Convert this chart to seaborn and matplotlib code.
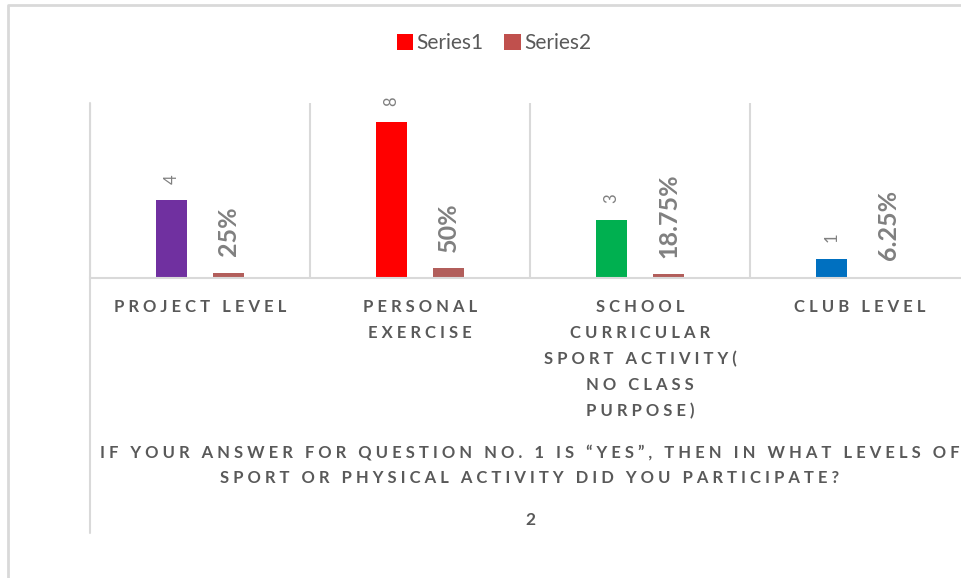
import numpy as np
import pandas as pd
import matplotlib
matplotlib.use("Agg")
import matplotlib.pyplot as plt
import seaborn as sns
from matplotlib.lines import Line2D
from matplotlib.patches import Patch

# data
categories = ["PROJECT LEVEL", "PERSONAL\nEXERCISE",
              "SCHOOL\nCURRICULAR\nSPORT ACTIVITY(\nNO CLASS\nPURPOSE)",
              "CLUB LEVEL"]
series_names = ["Series1", "Series2"]
series1 = [4, 8, 3, 1]
series2 = [0.25, 0.50, 0.1875, 0.0625]
series1_labels = ["4", "8", "3", "1"]
series2_labels = ["25%", "50%", "18.75%", "6.25%"]
point_colors = ["#7030A0", "#FF0000", "#00B050", "#0070C0"]
series_colors = ["#FF0000", "#C0504D"]
axis_title = "IF YOUR ANSWER FOR QUESTION NO. 1 IS \u201cYES\u201d, THEN IN WHAT LEVELS OF\nSPORT OR PHYSICAL ACTIVITY DID YOU PARTICIPATE?"
sub_title = "2"

GRID = "#D9D9D9"
TXT = "#595959"
LBL = "#808080"


def spaced(s):
    """Fake letter spacing: put a space between every character."""
    return "\n".join(" ".join(line) for line in s.split("\n"))


df = pd.DataFrame({
    "category": categories * 2,
    "series": [series_names[0]] * 4 + [series_names[1]] * 4,
    "value": series1 + series2,
})

sns.set_theme(style="white")
plt.rcParams["font.family"] = ["Lato", "DejaVu Sans"]

fig = plt.figure(figsize=(9.62, 5.78), dpi=100)
ax = fig.add_axes([90 / 962, 300 / 578, 880 / 962, 175 / 578])

sns.barplot(data=df, x="category", y="value", hue="series",
            palette=series_colors, width=0.52, gap=0.46,
            errorbar=None, legend=False, ax=ax)

for patch, c in zip(ax.containers[0].patches, point_colors):
    patch.set_facecolor(c)
    patch.set_edgecolor("none")
for patch in ax.containers[1].patches:
    patch.set_edgecolor("none")

ax.bar_label(ax.containers[0], labels=series1_labels, rotation=90,
             padding=12, fontsize=12, color=LBL)
ax.bar_label(ax.containers[1], labels=series2_labels, rotation=90,
             padding=12, fontsize=18, fontweight="bold", color=LBL)

ax.set_xlim(-0.5, 3.5)
ax.set_ylim(0, 9)
ax.set_yticks([])
ax.set_ylabel("")
for s in ["top", "left", "right"]:
    ax.spines[s].set_visible(False)
ax.spines["bottom"].set_color(GRID)
ax.spines["bottom"].set_linewidth(1.5)

for xv in np.arange(-0.5, 4, 1.0):
    ax.axvline(xv, color=GRID, lw=1.5, zorder=0)
# left divider runs down past the labels
ax.add_line(Line2D([0, 0], [1, -1.457], transform=ax.transAxes,
                   color=GRID, lw=1.5, clip_on=False))

ax.set_xticks(range(len(categories)))
ax.set_xticklabels([spaced(c) for c in categories], fontsize=12,
                   fontweight="bold", color=TXT, linespacing=1.75, va="top")
ax.tick_params(axis="x", length=0, pad=15)

ax.set_xlabel(spaced(axis_title), fontsize=12, fontweight="bold",
              color=TXT, linespacing=1.75)
ax.xaxis.set_label_coords(0.5, -0.95)
ax.text(0.5, -1.383, sub_title, transform=ax.transAxes, ha="center",
        va="center", fontsize=12.5, fontweight="bold", color=TXT)

handles = [Patch(facecolor=c, edgecolor="none") for c in series_colors]
fig.legend(handles, series_names, loc="center",
           bbox_to_anchor=(494 / 962, 1 - 43 / 578), ncol=2, frameon=False,
           fontsize=15, labelcolor=TXT, handlelength=0.8, handleheight=0.8,
           handletextpad=0.15, columnspacing=1.0)

# chart-area border (only top and left edges are visible in the crop)
fig.add_artist(Line2D([8 / 962, 8 / 962, 1.0], [0.0, 1 - 5 / 578, 1 - 5 / 578],
                      transform=fig.transFigure, color=GRID, lw=2))

fig.savefig("out.png", dpi=100)
plt.close(fig)
